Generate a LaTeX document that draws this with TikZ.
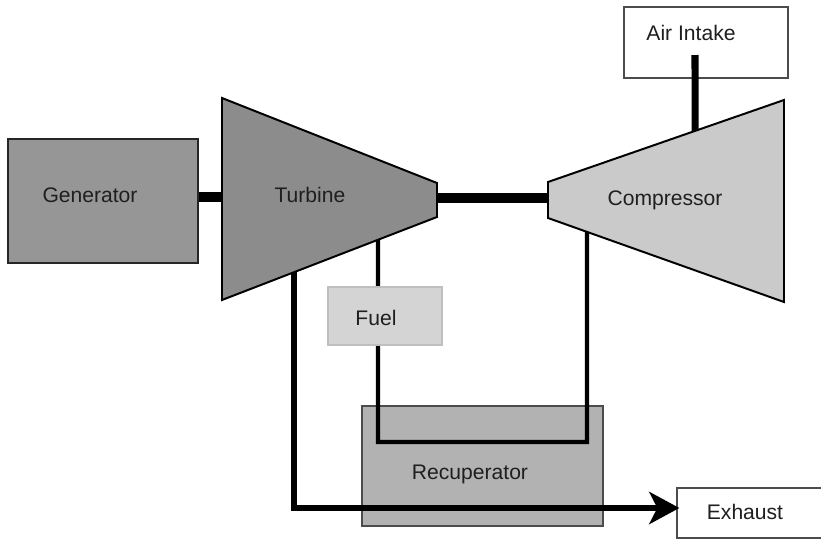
\documentclass[tikz,border=0pt]{standalone}
\usepackage{fontspec}
\setmainfont{Liberation Sans}
\usetikzlibrary{arrows.meta,calc}

\definecolor{genfill}{RGB}{150,150,150}
\definecolor{turbfill}{RGB}{140,140,140}
\definecolor{compfill}{RGB}{202,202,202}
\definecolor{fuelfill}{RGB}{212,212,212}
\definecolor{recfill}{RGB}{178,178,178}

\begin{document}
\begin{tikzpicture}[x=0.025cm, y=-0.025cm,
    box/.style={draw, rectangle, line width=0.9pt, inner sep=0pt},
    lbl/.style={font=\fontsize{15}{18}\selectfont, text=black!88, inner sep=0pt},
    shaft/.style={line width=6.5pt},
    pipe/.style={line width=3pt},
    machine/.style={draw, line width=1.4pt, line join=miter}]
    \useasboundingbox (0,0) rectangle (821,539);

    % Recuperator
    \node[box, draw=black!70, fill=recfill, minimum width=6.025cm, minimum height=3cm] (recup) at (482.5,466) {};
    \node[lbl] (recuplbl) at (470,474) {Recuperator};

    % Turbine
    \draw[machine, fill=turbfill] (222,98) coordinate (tb-tl) -- (437,183) coordinate (tb-tr)
        -- (437,217) coordinate (tb-br) -- (222,300) coordinate (tb-bl) -- cycle;
    \node[lbl] (turblbl) at (310,195) {Turbine};
    \coordinate (tb-w) at (222,197);
    \coordinate (tb-e) at (437,198);
    \coordinate (tb-exh) at ($(tb-bl)!0.335!(tb-br)$);
    \coordinate (tb-fuel) at ($(tb-bl)!0.7256!(tb-br)$);

    % Compressor
    \draw[machine, fill=compfill] (548,182) coordinate (cp-tl) -- (784,100) coordinate (cp-tr)
        -- (784,302) coordinate (cp-br) -- (548,218) coordinate (cp-bl) -- cycle;
    \node[lbl] (complbl) at (665,200) {Compressor};
    \coordinate (cp-w) at (548,198);
    \coordinate (cp-air) at ($(cp-tl)!0.623!(cp-tr)$);
    \coordinate (cp-rec) at ($(cp-bl)!0.165!(cp-br)$);

    % Generator
    \node[box, draw=black!85, fill=genfill, minimum width=4.75cm, minimum height=3.1cm] (gen) at (103,201) {};
    \node[lbl] (genlbl) at (90,195) {Generator};

    % Air intake
    \node[box, draw=black!70, fill=white, minimum width=4.1cm, minimum height=1.775cm] (air) at (706,42.5) {};
    \node[lbl] (airlbl) at (691,33) {Air Intake};
    \coordinate (air-pipe) at (695,55);

    % Exhaust
    \node[box, draw=black!70, fill=white, minimum width=3.7cm, minimum height=1.25cm] (exh) at (751,513) {};
    \node[lbl] (exhlbl) at (745,512) {Exhaust};

    % Shafts
    \draw[shaft] (gen.east |- tb-w) -- (tb-w);
    \draw[shaft] (tb-e) -- (cp-w);
    \draw[line width=5pt] (air-pipe) -- (cp-air);

    % Fuel loop through recuperator
    \coordinate (lp-r) at (587,442);
    \draw[pipe] (tb-fuel) -- (tb-fuel |- lp-r) -- (lp-r) -- (cp-rec);

    % Fuel
    \node[box, draw=fuelfill!90!black, fill=fuelfill, minimum width=2.85cm, minimum height=1.45cm] (fuel) at (385,316) {};
    \node[lbl] (fuellbl) at (376,318) {Fuel};

    % Exhaust flow
    \draw[line width=4.3pt, -{Stealth[length=0.75cm, width=0.8cm, inset=0.2cm]}, shorten >=-0.075cm]
        (tb-exh) |- ([yshift=0.125cm]exh.west);
\end{tikzpicture}
\end{document}
